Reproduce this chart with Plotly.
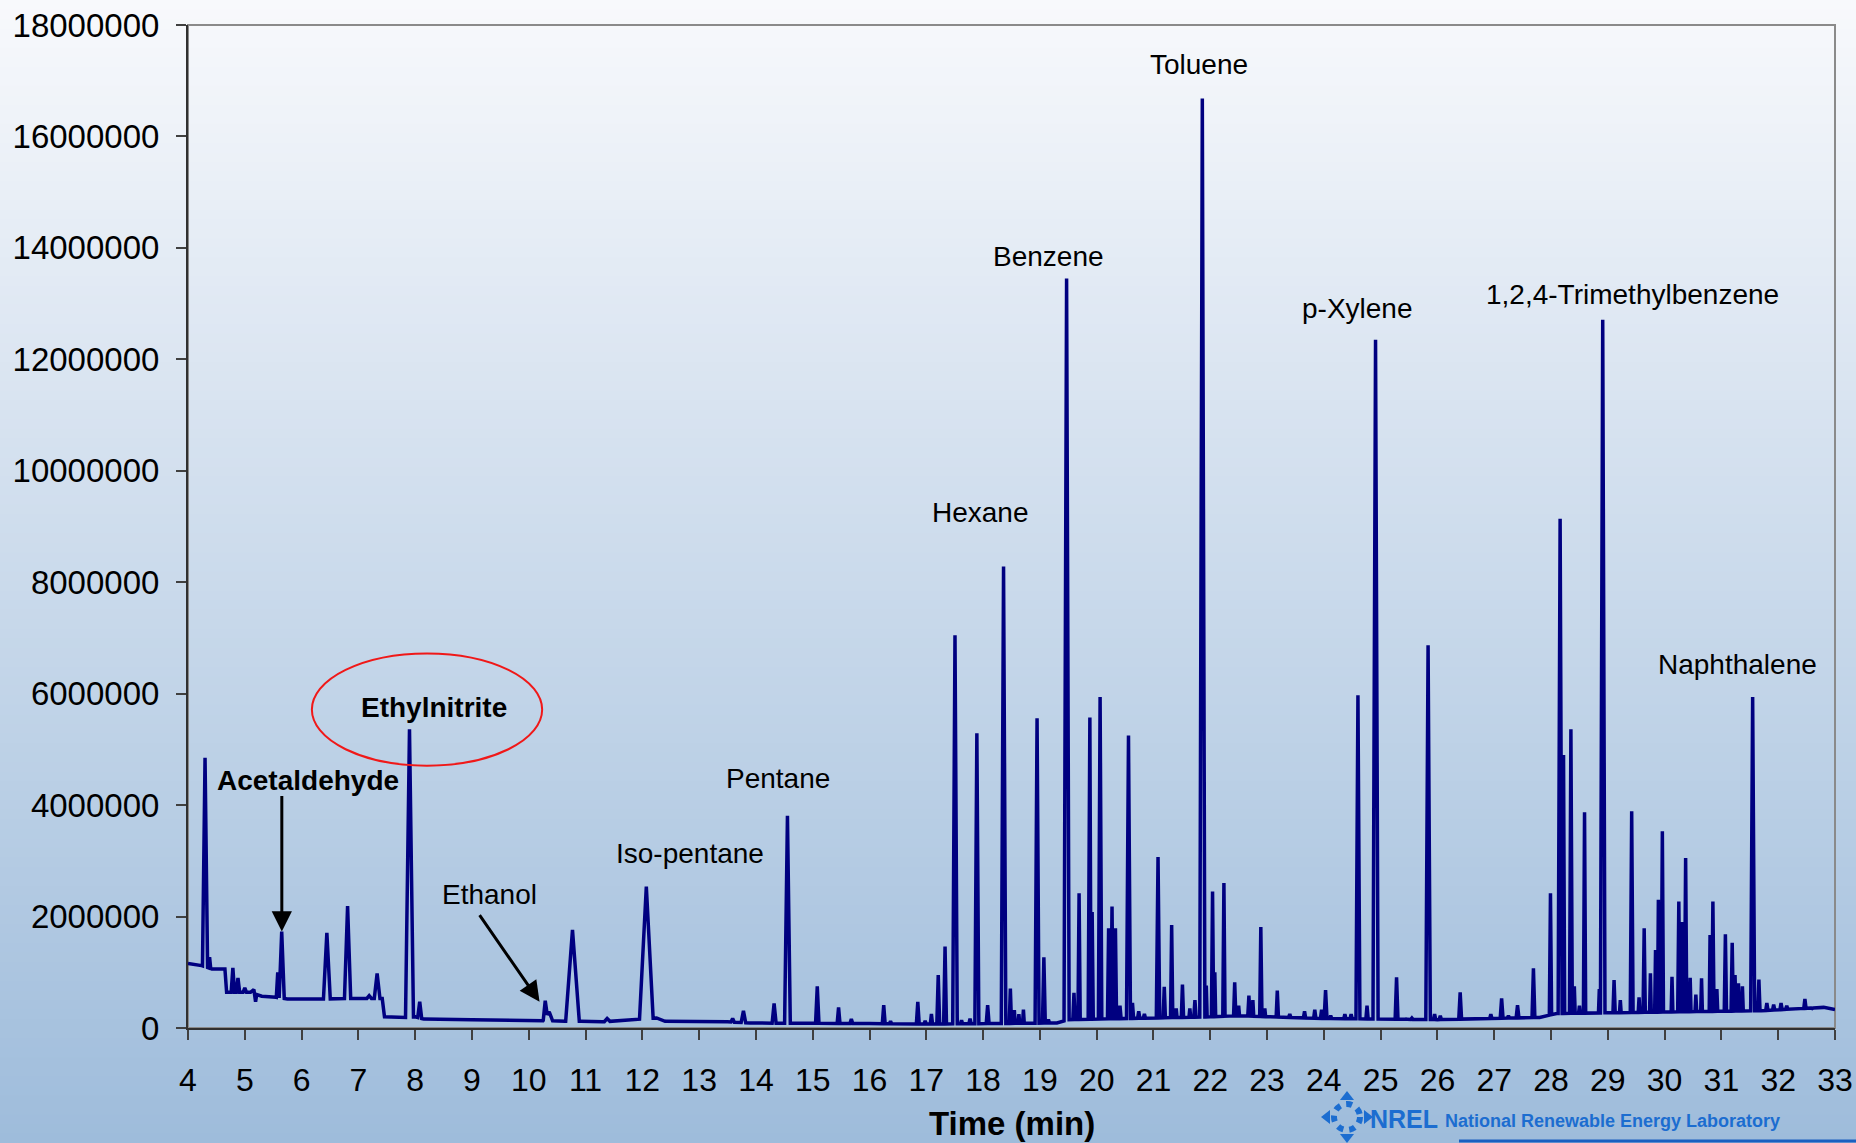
import numpy as np
import plotly.graph_objects as go

# ---------------- DATA ----------------
# Signal values are in millions of counts
SIGNAL_UNIT = 1e6

# Baseline of the chromatogram: (time min, signal in millions)
baseline_points = [
    (4.00, 1.16), (4.24, 1.12), (4.42, 1.06), (4.65, 1.06), (4.68, 0.64),
    (5.10, 0.64), (5.16, 0.69), (5.19, 0.47), (5.21, 0.60), (5.30, 0.57),
    (5.55, 0.55), (5.75, 0.52), (6.35, 0.52), (6.90, 0.53), (7.15, 0.53),
    (7.19, 0.58), (7.23, 0.53), (7.42, 0.53), (7.46, 0.20), (7.83, 0.19),
    (8.00, 0.20), (8.15, 0.16), (9.00, 0.15), (10.25, 0.13), (10.36, 0.29),
    (10.42, 0.13), (10.64, 0.12), (10.92, 0.12), (11.30, 0.11), (12.25, 0.18),
    (12.40, 0.12), (13.50, 0.11), (13.90, 0.09), (14.65, 0.085), (16.00, 0.08),
    (17.00, 0.07), (19.30, 0.09), (19.50, 0.15), (22.00, 0.20), (22.50, 0.22),
    (24.00, 0.17), (26.00, 0.15), (27.80, 0.19), (28.10, 0.26), (31.70, 0.31),
    (32.80, 0.37), (33.00, 0.33),
]

# Peaks: (retention time min, apex signal in millions, half-width min)
peaks = [
    (4.30, 4.85, 0.045), (4.38, 1.27, 0.02), (4.79, 1.08, 0.03), (4.88, 0.90, 0.03),
    (5.00, 0.72, 0.03), (5.58, 1.00, 0.025), (5.65, 1.73, 0.045), (6.445, 1.71, 0.06),
    (6.81, 2.19, 0.055), (7.33, 0.98, 0.05), (7.90, 5.36, 0.07), (8.08, 0.47, 0.035),
    (10.29, 0.49, 0.035), (10.77, 1.76, 0.12), (11.38, 0.17, 0.05), (12.07, 2.54, 0.12),
    (13.59, 0.17, 0.03), (13.78, 0.31, 0.04), (14.32, 0.44, 0.035), (14.555, 3.81, 0.05),
    (15.08, 0.75, 0.03), (15.455, 0.37, 0.025), (15.68, 0.16, 0.025), (16.25, 0.41, 0.025),
    (16.37, 0.12, 0.02), (16.85, 0.47, 0.025), (16.98, 0.13, 0.02), (17.09, 0.25, 0.02),
    (17.21, 0.95, 0.025), (17.33, 1.46, 0.025), (17.505, 7.05, 0.04), (17.62, 0.14, 0.02),
    (17.77, 0.17, 0.02), (17.89, 5.29, 0.035), (18.08, 0.41, 0.025), (18.36, 8.28, 0.04),
    (18.48, 0.71, 0.02), (18.55, 0.32, 0.015), (18.63, 0.25, 0.015), (18.71, 0.33, 0.015),
    (18.95, 5.56, 0.035), (19.07, 1.27, 0.025), (19.15, 0.15, 0.02), (19.47, 13.45, 0.045),
    (19.60, 0.63, 0.02), (19.69, 2.42, 0.02), (19.88, 5.57, 0.03), (19.92, 2.08, 0.02),
    (20.06, 5.94, 0.03), (20.21, 1.79, 0.02), (20.27, 2.18, 0.02), (20.33, 1.79, 0.02),
    (20.41, 0.40, 0.02), (20.56, 5.25, 0.035), (20.63, 0.45, 0.02), (20.74, 0.30, 0.02),
    (20.84, 0.25, 0.02), (21.08, 3.07, 0.03), (21.19, 0.74, 0.02), (21.32, 1.85, 0.02),
    (21.40, 0.35, 0.015), (21.51, 0.78, 0.02), (21.64, 0.35, 0.015), (21.73, 0.50, 0.02),
    (21.86, 16.68, 0.045), (21.93, 0.76, 0.015), (22.04, 2.45, 0.02), (22.08, 1.00, 0.015),
    (22.24, 2.60, 0.02), (22.43, 0.82, 0.02), (22.50, 0.40, 0.015), (22.68, 0.58, 0.02),
    (22.75, 0.50, 0.015), (22.89, 1.81, 0.02), (22.96, 0.35, 0.015), (23.18, 0.67, 0.02),
    (23.40, 0.25, 0.02), (23.66, 0.30, 0.02), (23.84, 0.33, 0.02), (23.96, 0.33, 0.02),
    (24.03, 0.68, 0.025), (24.12, 0.22, 0.02), (24.37, 0.25, 0.02), (24.48, 0.25, 0.02),
    (24.60, 5.97, 0.035), (24.76, 0.40, 0.02), (24.91, 12.35, 0.045), (25.28, 0.91, 0.025),
    (25.45, 0.16, 0.02), (25.55, 0.18, 0.02), (25.835, 6.87, 0.04), (25.95, 0.25, 0.02),
    (26.05, 0.22, 0.02), (26.40, 0.64, 0.025), (26.94, 0.25, 0.02), (27.13, 0.53, 0.025),
    (27.25, 0.22, 0.02), (27.41, 0.41, 0.025), (27.69, 1.07, 0.025), (27.99, 2.42, 0.02),
    (28.16, 9.14, 0.035), (28.22, 4.90, 0.02), (28.35, 5.36, 0.025), (28.41, 0.75, 0.015),
    (28.50, 0.40, 0.015), (28.59, 3.87, 0.02), (28.85, 0.70, 0.015), (28.91, 12.71, 0.04),
    (29.11, 0.86, 0.02), (29.22, 0.50, 0.015), (29.42, 3.89, 0.025), (29.55, 0.55, 0.015),
    (29.64, 1.79, 0.02), (29.75, 0.98, 0.015), (29.84, 1.40, 0.015), (29.89, 2.30, 0.015),
    (29.96, 3.53, 0.02), (30.13, 0.92, 0.015), (30.25, 2.27, 0.02), (30.30, 1.90, 0.015),
    (30.37, 3.05, 0.02), (30.45, 0.90, 0.015), (30.55, 0.60, 0.015), (30.65, 0.89, 0.015),
    (30.80, 1.67, 0.015), (30.85, 2.27, 0.02), (30.92, 0.70, 0.015), (31.07, 1.68, 0.02),
    (31.19, 1.53, 0.02), (31.24, 0.95, 0.015), (31.30, 0.80, 0.015), (31.37, 0.75, 0.015),
    (31.55, 5.94, 0.035), (31.66, 0.87, 0.02), (31.80, 0.45, 0.02), (31.92, 0.42, 0.02),
    (32.05, 0.45, 0.02), (32.15, 0.40, 0.02), (32.47, 0.52, 0.02), (32.60, 0.35, 0.02),
]

x_ticks = list(range(4, 34))
y_ticks = [0, 2e6, 4e6, 6e6, 8e6, 10e6, 12e6, 14e6, 16e6, 18e6]
y_tick_labels = ["0", "2000000", "4000000", "6000000", "8000000", "10000000",
                 "12000000", "14000000", "16000000", "18000000"]
x_title = "Time (min)"

# compound labels: (text, time, signal in millions, bold)
compound_labels = [
    ("Toluene", 21.80, 17.30, False),
    ("Benzene", 19.155, 13.84, False),
    ("Hexane", 17.946, 9.26, False),
    ("p-Xylene", 24.60, 12.92, False),
    ("1,2,4-Trimethylbenzene", 29.44, 13.17, False),
    ("Naphthalene", 31.28, 6.52, False),
    ("Pentane", 14.38, 4.47, False),
    ("Iso-pentane", 12.84, 3.13, False),
    ("Ethanol", 9.30, 2.40, False),
    ("Ethylnitrite", 8.334, 5.76, True),
    ("Acetaldehyde", 6.112, 4.44, True),
]

# ---------------- BUILD THE TRACE ----------------
bt = np.array([p[0] for p in baseline_points])
bv = np.array([p[1] for p in baseline_points])
pts = []
for t, h, w in peaks:
    pts.append((t - w, float(np.interp(t - w, bt, bv))))
    pts.append((t, h))
    pts.append((t + w, float(np.interp(t + w, bt, bv))))
for t, v in baseline_points:
    if not any(abs(t - pt) < pw for pt, _, pw in peaks):
        pts.append((t, v))
pts.sort(key=lambda p: p[0])
xs = [p[0] for p in pts]
ys = [p[1] * SIGNAL_UNIT for p in pts]

fig = go.Figure()
fig.add_trace(go.Scatter(x=xs, y=ys, mode="lines",
                         line=dict(color="#000080", width=3.5, simplify=False),
                         hoverinfo="skip"))

# ---------------- LAYOUT ----------------
W, H = 1856, 1143
ML, MR, MT, MB = 188, 21, 25, 115
PW, PH = W - ML - MR, H - MT - MB


def px_to_paper(px, py):
    return (px - ML) / PW, (H - MB - py) / PH


shapes = []
# background gradient (white at top to light blue at bottom)
top_c = np.array([248, 249, 252])
bot_c = np.array([158, 188, 219])
N = 120
for i in range(N):
    y0p = i * H / N - (10 if i == 0 else 0)
    y1p = (i + 1) * H / N + (1.5 if i < N - 1 else 10)
    f = (i + 0.5) / N
    c = top_c + (bot_c - top_c) * f
    _, py0 = px_to_paper(0, y0p)
    _, py1 = px_to_paper(0, y1p)
    shapes.append(dict(type="rect", xref="paper", yref="paper",
                       x0=-0.2, x1=1.1, y0=py1, y1=py0,
                       fillcolor="rgb(%d,%d,%d)" % tuple(c.round().astype(int)),
                       line=dict(width=0), layer="below"))
# gray frame
shapes.append(dict(type="rect", xref="paper", yref="paper", x0=0, x1=1, y0=0, y1=1,
                   line=dict(color="#8a8a8a", width=2), layer="below"))
# red ellipse around Ethylnitrite
shapes.append(dict(type="circle", xref="x", yref="y", x0=6.181, x1=10.236,
                   y0=4.708e6, y1=6.721e6, line=dict(color="#f01818", width=2),
                   layer="above"))

# NREL footer logo
logo_blue = "#1c6dd0"
xa, ya = px_to_paper(1347, 1117)
shapes.append(dict(type="circle", xref="paper", yref="paper", xsizemode="pixel",
                   ysizemode="pixel", xanchor=xa, yanchor=ya, x0=-13, x1=13, y0=-13, y1=13,
                   line=dict(color=logo_blue, width=6, dash="dot"), layer="above"))
for dx, dy in [(1, 0), (-1, 0), (0, 1), (0, -1)]:
    ox, oy = -dy, dx
    tip = (dx * 26, dy * 26)
    b1 = (dx * 17 + ox * 7, dy * 17 + oy * 7)
    b2 = (dx * 17 - ox * 7, dy * 17 - oy * 7)
    path = "M %g,%g L %g,%g L %g,%g Z" % (b1[0], b1[1], tip[0], tip[1], b2[0], b2[1])
    shapes.append(dict(type="path", xref="paper", yref="paper", xsizemode="pixel",
                       ysizemode="pixel", xanchor=xa, yanchor=ya, path=path,
                       fillcolor=logo_blue, line=dict(width=0), layer="above"))
lx0, ly = px_to_paper(1459, 1141)
lx1, _ = px_to_paper(1856, 1141)
shapes.append(dict(type="line", xref="paper", yref="paper", x0=lx0, x1=lx1, y0=ly, y1=ly,
                   line=dict(color="#1a5fc0", width=3), layer="above"))

annotations = []
for text, t, v, bold in compound_labels:
    annotations.append(dict(x=t, y=v * SIGNAL_UNIT, xref="x", yref="y",
                            text="<b>%s</b>" % text if bold else text,
                            showarrow=False, xanchor="center", yanchor="middle",
                            font=dict(size=28, color="black")))
# arrows
annotations.append(dict(x=5.652, y=1.73e6, xref="x", yref="y", text="", showarrow=True,
                        ax=0, ay=-137, arrowhead=2, arrowwidth=3, arrowsize=1.35,
                        arrowcolor="black", standoff=0))
annotations.append(dict(x=10.19, y=0.473e6, xref="x", yref="y", text="", showarrow=True,
                        ax=-61, ay=-88, arrowhead=2, arrowwidth=3, arrowsize=1.35,
                        arrowcolor="black", standoff=0))
# axis title
tx, ty = px_to_paper(1011, 1123)
annotations.append(dict(x=0.5, y=ty, xref="paper", yref="paper", text="<b>%s</b>" % x_title,
                        showarrow=False, xanchor="center", yanchor="middle",
                        font=dict(size=33, color="black")))
# footer text
nx, ny = px_to_paper(1404, 1119)
annotations.append(dict(x=nx, y=ny, xref="paper", yref="paper", text="<b>NREL</b>",
                        showarrow=False, xanchor="center", yanchor="middle",
                        font=dict(size=25, color=logo_blue)))
fx, fy = px_to_paper(1443, 1121)
annotations.append(dict(x=fx, y=fy, xref="paper", yref="paper",
                        text="<b>National Renewable Energy Laboratory</b>",
                        showarrow=False, xanchor="left", yanchor="middle",
                        font=dict(size=18, color=logo_blue)))

fig.update_layout(
    width=W, height=H,
    margin=dict(l=ML, r=MR, t=MT, b=MB, pad=0, autoexpand=False),
    paper_bgcolor="rgb(158,188,219)",
    plot_bgcolor="rgba(0,0,0,0)",
    showlegend=False,
    hovermode=False,
    font=dict(family="Liberation Sans, Arial, sans-serif", color="black"),
    shapes=shapes,
    annotations=annotations,
    xaxis=dict(range=[4, 33], tickmode="array", tickvals=x_ticks,
               ticktext=[str(v) for v in x_ticks], showgrid=False, zeroline=False,
               showline=True, linecolor="#303030", linewidth=2, ticks="outside",
               ticklen=10, tickwidth=2, tickcolor="#404040", automargin=False,
               tickfont=dict(size=32, color="black"), ticklabelstandoff=13),
    yaxis=dict(range=[0, 18e6], tickmode="array", tickvals=y_ticks,
               ticktext=y_tick_labels, showgrid=False, zeroline=False,
               showline=True, linecolor="#303030", linewidth=2, ticks="outside",
               ticklen=10, tickwidth=2, tickcolor="#404040", automargin=False,
               tickfont=dict(size=33, color="black"), ticklabelstandoff=10),
)

fig.write_html("out.html", config={"displayModeBar": False},
               post_script="document.body.style.margin='0';document.body.style.overflow='hidden';")
